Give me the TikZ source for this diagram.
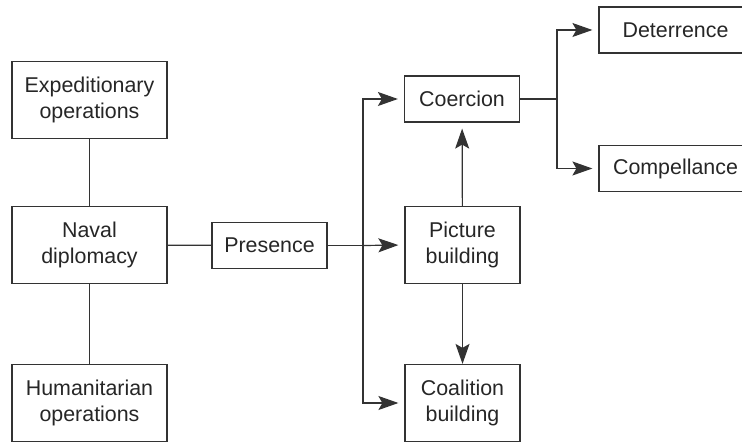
\documentclass[tikz,border=0pt]{standalone}
\usepackage{fontspec}
\setmainfont{Liberation Sans}
\usetikzlibrary{arrows.meta}
\begin{document}
\begin{tikzpicture}[x=0.5pt, y=-0.5pt, >={Stealth[length=10pt, width=7pt, inset=2pt]}, line width=0.6pt, color=black!80,
        every node/.style={draw, font=\fontsize{10.7}{13}\selectfont, align=center, inner sep=0pt, text=black!85},
        tall/.style={minimum width=77.5pt, minimum height=38.5pt},
        flat/.style={minimum width=57.5pt, minimum height=23pt},
        wide/.style={minimum width=76.5pt, minimum height=23pt},
        arr/.style={->, shorten >=3pt}]
        \useasboundingbox (0,0) rectangle (742,442);

        \node[tall] (expe) at (89.5,100) {Expeditionary\\operations};
        \node[tall] (naval) at (89.5,245) {Naval\\diplomacy};
        \node[tall] (human) at (89.5,403) {Humanitarian\\operations};
        \node[flat] (pres) at (269.5,245.5) {Presence};
        \node[flat] (coer) at (462,99) {Coercion};
        \node[tall, minimum width=57.5pt] (pict) at (462.5,245) {Picture\\building};
        \node[tall, minimum width=57.5pt] (coal) at (462.5,403) {Coalition\\building};
        \node[wide] (dete) at (675.5,30) {Deterrence};
        \node[wide] (comp) at (675.5,168.5) {Compellance};

        \coordinate (fork) at (363,245.5);
        \coordinate (split) at (557,99);

        \draw (expe) -- (naval);
        \draw (naval) -- (human);
        \draw (naval) -- (pres);
        \draw (pres) -- (fork);
        \draw[arr] (fork) |- (coer.west);
        \draw[arr] (fork) -- (pict.west);
        \draw[arr] (fork) |- (coal.west);
        \draw[arr] (pict) -- (coer);
        \draw[->] (pict) -- (coal);
        \draw (coer) -- (split);
        \draw[arr] (split) |- (dete.west);
        \draw[arr] (split) |- (comp.west);
    \end{tikzpicture}
\end{document}
